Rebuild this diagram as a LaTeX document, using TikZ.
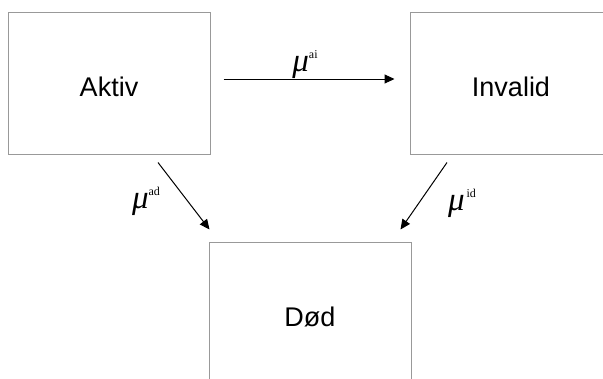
\documentclass[tikz,border=0pt]{standalone}
\usepackage{fontspec}
\setmainfont{Liberation Sans}
\newfontfamily\serifit{Liberation Serif}
\usetikzlibrary{arrows.meta}
\newcommand{\rate}[1]{{\serifit\itshape\fontsize{33}{33}\selectfont μ}\raisebox{13pt}{\serifit\fontsize{12}{12}\selectfont #1}}
\newcommand{\boxtext}[1]{\raisebox{-4pt}[\height][\depth]{#1}}
\tikzset{
  statebox/.style={draw=black!40, line width=1pt, minimum width=202pt, minimum height=142pt, inner sep=0pt, font=\fontsize{27}{27}\selectfont},
  trans/.style={draw=black, line width=1pt, -{Triangle[length=10pt,width=9pt]}},
  ratelbl/.style={inner sep=0pt, anchor=center}
}
\begin{document}
\begin{tikzpicture}[x=1pt,y=-1pt]
\clip (0,0) rectangle (603,378);
\useasboundingbox (0,0) rectangle (603,378);
\fill[white] (0,0) rectangle (603,378);
\node[statebox] (aktiv) at (109,83) {\boxtext{Aktiv}};
\node[statebox] (invalid) at (511,83) {\boxtext{Invalid}};
\node[statebox] (dod) at (310,313) {\boxtext{D\o d}};
\draw[trans] ([yshift=4pt,xshift=13pt]aktiv.east) -- ([yshift=4pt,xshift=-15pt]invalid.west);
\draw[trans] ([xshift=49pt,yshift=-8pt]aktiv.south) -- ([xshift=1pt,yshift=12pt]dod.north west);
\draw[trans] ([xshift=-64pt,yshift=-8pt]invalid.south) -- ([xshift=-11pt,yshift=12pt]dod.north east);
\node[ratelbl] (lai) at (305,65) {\rate{ai}};
\node[ratelbl] (lad) at (146,201) {\rate{ad}};
\node[ratelbl] (lid) at (462,203) {\rate{\,id}};
\end{tikzpicture}
\end{document}
